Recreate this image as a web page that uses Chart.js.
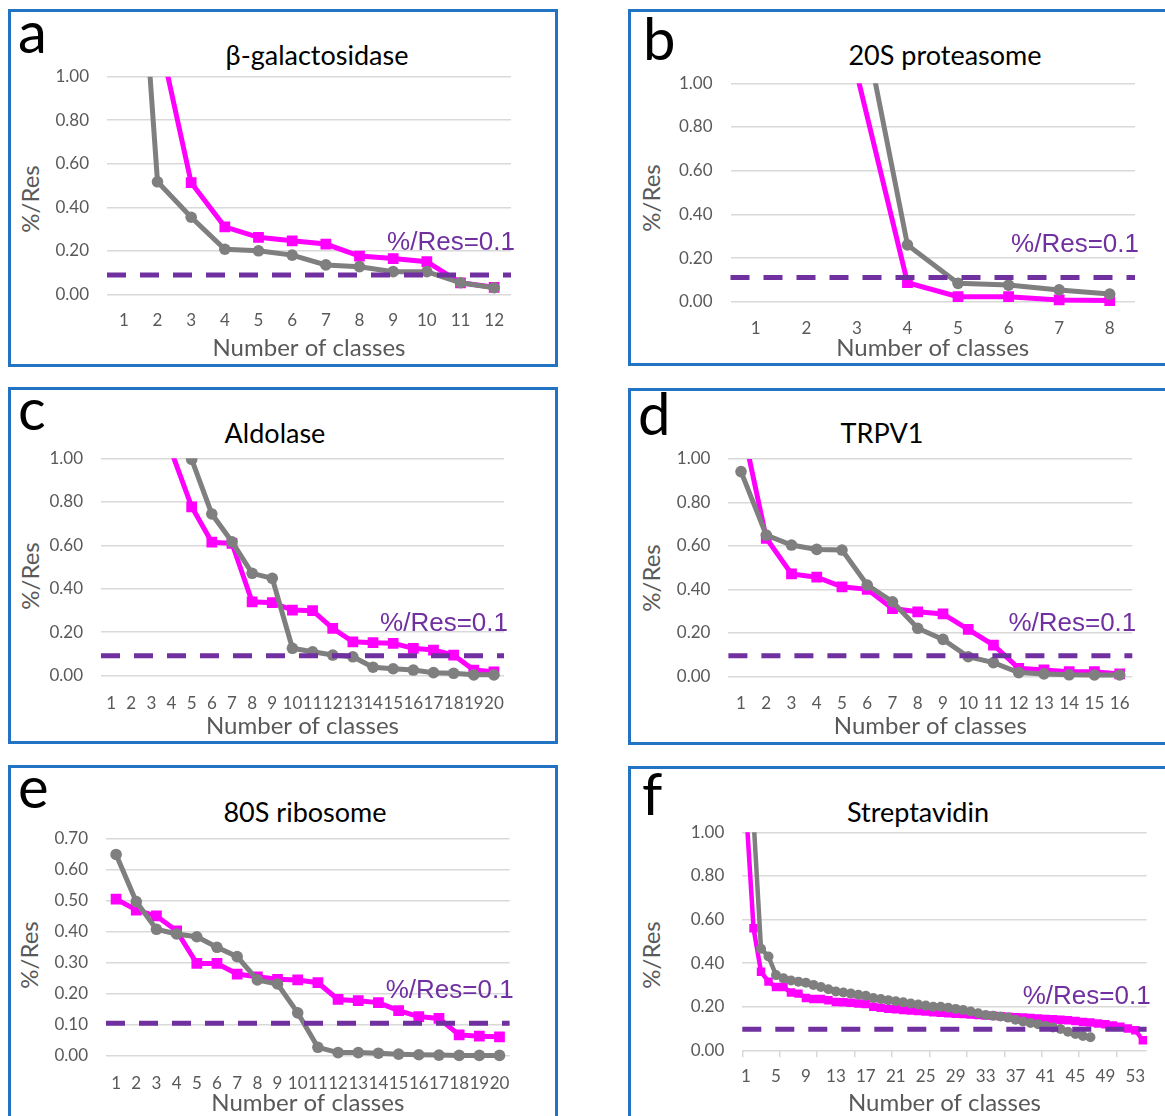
<!DOCTYPE html>
<html>
<head>
<meta charset="utf-8">
<script src="https://cdn.jsdelivr.net/npm/chart.js@4.4.1/dist/chart.umd.min.js"></script>
<style>
  html, body { margin: 0; padding: 0; background: #fff; }
  body { position: relative; width: 1165px; height: 1116px; overflow: hidden; font-family: Lato, sans-serif; }
  .box { position: absolute; border: 3px solid #2273c3; box-sizing: border-box; }
  canvas { position: absolute; }
  .letter { position: absolute; font: 58px/58px Lato; color: #000; white-space: nowrap; }
  .title { position: absolute; width: 400px; text-align: center; font: 27px/27px Lato; color: #000; white-space: nowrap; }
  .ytitle { position: absolute; font: 24px/24px Lato; color: #595959; white-space: nowrap;
            transform: translate(-50%, -50%) rotate(-90deg); }
</style>
</head>
<body>
<script>
// ---- data ----

const THRESH_TEXT = '%/Res=0.1';
const X_TITLE = 'Number of classes';
const Y_TITLE = '%/Res';

// a) beta-galactosidase
const classesA = ['1','2','3','4','5','6','7','8','9','10','11','12'];
const grayA    = [2.71, 0.517, 0.354, 0.207, 0.20, 0.18, 0.135, 0.127, 0.104, 0.104, 0.053, 0.03];
const magentaA = [null, 1.22, 0.513, 0.31, 0.262, 0.246, 0.231, 0.176, 0.164, 0.15, 0.053, 0.032];

// b) 20S proteasome
const classesB = ['1','2','3','4','5','6','7','8'];
const grayB    = [null, null, 1.43, 0.26, 0.084, 0.076, 0.054, 0.035];
const magentaB = [null, null, 1.042, 0.087, 0.023, 0.023, 0.008, 0.005];

// c) Aldolase
const classesC = ['1','2','3','4','5','6','7','8','9','10','11','12','13','14','15','16','17','18','19','20'];
const grayC    = [null, null, null, null, 0.995, 0.744, 0.616, 0.471, 0.448, 0.126, 0.11, 0.095, 0.087, 0.039, 0.032, 0.026, 0.014, 0.011, 0.004, 0.004];
const magentaC = [null, null, null, 1.03, 0.777, 0.614, 0.609, 0.34, 0.336, 0.302, 0.299, 0.218, 0.156, 0.152, 0.149, 0.126, 0.118, 0.095, 0.026, 0.018];

// d) TRPV1
const classesD = ['1','2','3','4','5','6','7','8','9','10','11','12','13','14','15','16'];
const grayD    = [0.942, 0.65, 0.604, 0.584, 0.581, 0.42, 0.343, 0.221, 0.17, 0.09, 0.063, 0.017, 0.011, 0.007, 0.006, 0.006];
const magentaD = [1.18, 0.635, 0.471, 0.456, 0.412, 0.40, 0.312, 0.297, 0.287, 0.216, 0.144, 0.037, 0.029, 0.021, 0.021, 0.011];

// e) 80S ribosome
const classesE = ['1','2','3','4','5','6','7','8','9','10','11','12','13','14','15','16','17','18','19','20'];
const grayE    = [0.648, 0.496, 0.407, 0.392, 0.383, 0.349, 0.319, 0.244, 0.231, 0.138, 0.027, 0.01, 0.01, 0.008, 0.005, 0.003, 0.002, 0.001, 0.001, 0.001];
const magentaE = [0.504, 0.469, 0.45, 0.402, 0.297, 0.297, 0.263, 0.254, 0.246, 0.244, 0.235, 0.181, 0.177, 0.171, 0.145, 0.126, 0.12, 0.067, 0.063, 0.061];

// f) Streptavidin
const classesF = ['1','2','3','4','5','6','7','8','9','10','11','12','13','14','15','16','17','18',
                  '19','20','21','22','23','24','25','26','27','28','29','30','31','32','33','34','35','36',
                  '37','38','39','40','41','42','43','44','45','46','47','48','49','50','51','52','53','54'];
const grayF    = [null, 1.06, 0.466, 0.43, 0.345, 0.33, 0.32, 0.315, 0.31, 0.30, 0.29, 0.28, 0.27, 0.265, 0.26, 0.255,
                  0.25, 0.24, 0.235, 0.23, 0.225, 0.22, 0.215, 0.21, 0.205, 0.20, 0.20, 0.195, 0.19, 0.185, 0.178, 0.17,
                  0.162, 0.158, 0.155, 0.15, 0.14, 0.132, 0.125, 0.12, 0.112, 0.105, 0.098, 0.085, 0.075, 0.066, 0.06];
const magentaF = [1.11, 0.56, 0.36, 0.315, 0.29, 0.29, 0.265, 0.26, 0.24, 0.235, 0.235, 0.23, 0.222, 0.22, 0.218, 0.215,
                  0.212, 0.20, 0.195, 0.19, 0.188, 0.185, 0.182, 0.18, 0.178, 0.175, 0.172, 0.17, 0.168, 0.166, 0.164, 0.162,
                  0.16, 0.158, 0.156, 0.154, 0.152, 0.15, 0.148, 0.146, 0.144, 0.142, 0.14, 0.138, 0.134, 0.13, 0.127, 0.123,
                  0.12, 0.114, 0.108, 0.10, 0.092, 0.046];

// ---- styling ----
const GRAY = '#7f7f7f';
const MAGENTA = '#ff00ff';
const PURPLE = '#7030a0';
const TEXT_GRAY = '#595959';
const GRID = '#d9d9d9';

// panel layout: box = outer frame, plot = wanted chart area (page px)
const panels = [
  { letter: 'a', name: 'β-galactosidase', labels: classesA, gray: grayA, magenta: magentaA, thresh: 0.089,
    box: {x: 8, y: 9, w: 550, h: 358}, plot: {l: 107, r: 511, t: 76.7, b: 294.3},
    letterPos: [18, 1.5], titleX: 317, titleBase: 65, yTitle: [30.4, 199], xPad: 16.4, xTitlePad: 4 },
  { letter: 'b', name: '20S proteasome', labels: classesB, gray: grayB, magenta: magentaB, thresh: 0.111,
    box: {x: 628, y: 9, w: 545, h: 357}, plot: {l: 730.5, r: 1135, t: 83.3, b: 301.7},
    letterPos: [643, 8.5], titleX: 945, titleBase: 65, yTitle: [650.7, 198.3], xPad: 16.5, xTitlePad: 3 },
  { letter: 'c', name: 'Aldolase', labels: classesC, gray: grayC, magenta: magentaC, thresh: 0.0915,
    box: {x: 8, y: 387, w: 550, h: 357}, plot: {l: 101, r: 504, t: 458.3, b: 675.7},
    letterPos: [18, 378.5], titleX: 275, titleBase: 443, yTitle: [30, 575.8], xPad: 17.5, xTitlePad: 3.7 },
  { letter: 'd', name: 'TRPV1', labels: classesD, gray: grayD, magenta: magentaD, thresh: 0.094,
    box: {x: 628, y: 388, w: 545, h: 357}, plot: {l: 728.4, r: 1132.3, t: 459, b: 676.3},
    letterPos: [638, 383.5], titleX: 882, titleBase: 443, yTitle: [650.5, 577.5], xPad: 17, xTitlePad: 3.9 },
  { letter: 'e', name: '80S ribosome', labels: classesE, gray: grayE, magenta: magentaE, thresh: 0.1046,
    yMax: 0.7, yStep: 0.1,
    box: {x: 8, y: 765, w: 550, h: 360}, plot: {l: 106, r: 509.6, t: 838.3, b: 1055.7},
    letterPos: [18, 756.5], titleX: 305, titleBase: 821.7, yTitle: [29, 955], xPad: 17.5, xTitlePad: 6.9 },
  { letter: 'f', name: 'Streptavidin', labels: classesF, gray: grayF, magenta: magentaF, thresh: 0.096,
    sparse: true, lw: 4.5, rCircle: 5, rRect: 6,
    box: {x: 628, y: 766, w: 545, h: 359}, plot: {l: 742.3, r: 1146.6, t: 832.3, b: 1050.3},
    letterPos: [642, 763.5], titleX: 918, titleBase: 821.7, yTitle: [650.7, 955], xPad: 9.2, xTitlePad: 6.9 }
];

const PAGE_W = 1165;

// dashed %/Res=0.1 line plus its label, placed through the y scale
const thresholdPlugin = {
  id: 'threshold',
  afterDatasetsDraw(chart, args, opts) {
    const {ctx, chartArea} = chart;
    const y = chart.scales.y.getPixelForValue(opts.value);
    ctx.save();
    ctx.strokeStyle = PURPLE;
    ctx.lineWidth = 5;
    ctx.setLineDash([19, 14]);
    ctx.beginPath();
    ctx.moveTo(chartArea.left, y);
    ctx.lineTo(chartArea.right, y);
    ctx.stroke();
    ctx.setLineDash([]);
    ctx.fillStyle = PURPLE;
    ctx.font = '26px "Liberation Sans", Arial, sans-serif';
    ctx.textAlign = 'right';
    ctx.textBaseline = 'alphabetic';
    ctx.fillText(opts.text, chartArea.right + 4, y - 25);
    ctx.restore();
  }
};

function addText(cls, text, left, top) {
  const el = document.createElement('div');
  el.className = cls;
  el.textContent = text;
  el.style.left = left + 'px';
  el.style.top = top + 'px';
  document.body.appendChild(el);
  return el;
}

function buildPanel(p) {
  // frame
  const box = document.createElement('div');
  box.className = 'box';
  Object.assign(box.style, { left: p.box.x + 'px', top: p.box.y + 'px', width: p.box.w + 'px', height: p.box.h + 'px' });
  document.body.appendChild(box);

  // texts
  addText('letter', p.letter, p.letterPos[0], p.letterPos[1]);
  addText('title', p.name, p.titleX - 200, p.titleBase - 24);
  addText('ytitle', Y_TITLE, p.yTitle[0], p.yTitle[1]);

  // canvas covers the frame (cut at the page edge)
  const w = Math.min(p.box.w, PAGE_W - p.box.x);
  const h = p.box.h;
  const canvas = document.createElement('canvas');
  canvas.width = w;
  canvas.height = h;
  canvas.style.left = p.box.x + 'px';
  canvas.style.top = p.box.y + 'px';
  document.body.appendChild(canvas);

  const lw = p.lw || 5;
  const clip = {left: 12, top: 0, right: 12, bottom: 12};
  const tickFont = {family: 'Lato', size: 17};

  const xGrid = p.sparse
    ? { display: true, drawOnChartArea: false, drawTicks: true, tickLength: 7, offset: true, lineWidth: 1.5,
        tickColor: c => (c.index % 5 === 0 ? GRID : 'rgba(0,0,0,0)') }
    : { display: false, drawTicks: false };

  new Chart(canvas.getContext('2d'), {
    type: 'line',
    data: {
      labels: p.labels,
      datasets: [
        { data: p.gray, borderColor: GRAY, backgroundColor: GRAY, borderWidth: lw,
          pointStyle: 'circle', pointRadius: p.rCircle || 5.8, pointBorderWidth: 0, clip },
        { data: p.magenta, borderColor: MAGENTA, backgroundColor: MAGENTA, borderWidth: lw,
          pointStyle: 'rect', pointRadius: p.rRect || 7.6, pointBorderWidth: 0, clip }
      ]
    },
    options: {
      responsive: false,
      animation: false,
      events: [],
      layout: { padding: { left: 0, bottom: 0, top: p.plot.t - p.box.y, right: p.box.x + w - p.plot.r } },
      plugins: {
        legend: { display: false },
        tooltip: { enabled: false },
        threshold: { value: p.thresh, text: THRESH_TEXT }
      },
      scales: {
        x: {
          offset: true,
          border: { display: false },
          grid: xGrid,
          ticks: {
            autoSkip: false, maxRotation: 0, padding: p.xPad, color: TEXT_GRAY, font: tickFont,
            callback: (v, i) => (p.sparse && i % 4 !== 0 ? '' : p.labels[i])
          },
          title: { display: true, text: X_TITLE, color: TEXT_GRAY, font: {family: 'Lato', size: 24},
                   padding: {top: 0, bottom: p.xTitlePad} },
          afterFit: s => { s.height = p.box.y + h - p.plot.b; }
        },
        y: {
          min: 0,
          max: p.yMax || 1,
          border: { display: false },
          grid: { color: GRID, lineWidth: 1.5, drawTicks: false },
          ticks: { stepSize: p.yStep || 0.2, padding: 18, color: TEXT_GRAY, font: tickFont,
                   callback: v => v.toFixed(2) },
          afterFit: s => { s.width = p.plot.l - p.box.x; }
        }
      }
    },
    plugins: [thresholdPlugin]
  });
}

panels.forEach(buildPanel);
</script>
</body>
</html>
